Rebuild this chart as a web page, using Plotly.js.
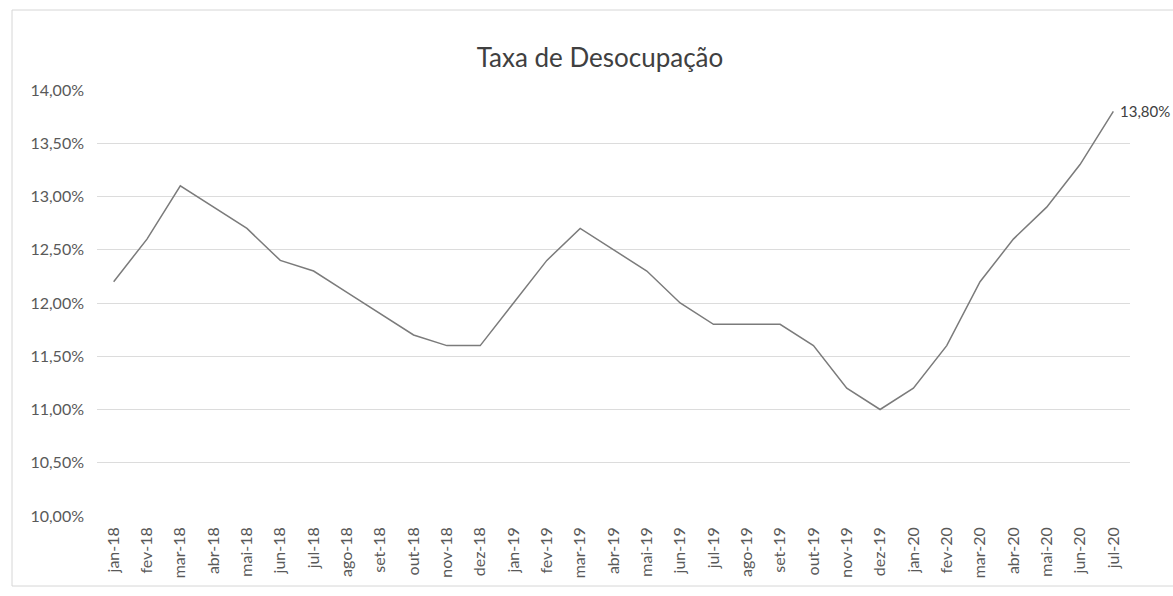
<!DOCTYPE html>
<html>
<head>
<meta charset="utf-8">
<script src="https://cdn.plot.ly/plotly-3.0.1.min.js"></script>
<style>
  html, body { margin: 0; padding: 0; background: #ffffff; }
  #chart { width: 1173px; height: 596px; }
</style>
</head>
<body>
<div id="chart"></div>
<script>
// Categories (month-year, Portuguese abbreviations)
const months = [
  "jan-18","fev-18","mar-18","abr-18","mai-18","jun-18","jul-18","ago-18","set-18","out-18","nov-18","dez-18",
  "jan-19","fev-19","mar-19","abr-19","mai-19","jun-19","jul-19","ago-19","set-19","out-19","nov-19","dez-19",
  "jan-20","fev-20","mar-20","abr-20","mai-20","jun-20","jul-20"
];

// Unemployment rate (%)
const taxaDesocupacao = [
  12.2, 12.6, 13.1, 12.9, 12.7, 12.4, 12.3, 12.1, 11.9, 11.7, 11.6, 11.6,
  12.0, 12.4, 12.7, 12.5, 12.3, 12.0, 11.8, 11.8, 11.8, 11.6, 11.2, 11.0,
  11.2, 11.6, 12.2, 12.6, 12.9, 13.3, 13.8
];

// Y-axis ticks and their labels
const yTicks = [10, 10.5, 11, 11.5, 12, 12.5, 13, 13.5, 14];
const yTickLabels = ["10,00%","10,50%","11,00%","11,50%","12,00%","12,50%","13,00%","13,50%","14,00%"];

const chartTitle = "Taxa de Desocupação";

const fontFamily = "Lato, 'Open Sans', 'Noto Sans', sans-serif";

const lastIdx = months.length - 1;
const lastLabel = taxaDesocupacao[lastIdx].toFixed(2).replace(".", ",") + "%";

const trace = {
  type: "scatter",
  mode: "lines",
  x: months,
  y: taxaDesocupacao,
  line: { color: "#7b7b7b", width: 1.5 },
  hoverinfo: "x+y",
  showlegend: false
};

// Plot area pixel geometry (for the chart-area border)
const W = 1173, H = 596;
const mL = 97, mR = 43, mT = 90, mB = 80;
const pw = W - mL - mR, ph = H - mT - mB;
const px = v => (v - mL) / pw;
const py = v => (H - mB - v) / ph;

const layout = {
  width: W,
  height: H,
  margin: { l: mL, r: mR, t: mT, b: mB, pad: 0 },
  paper_bgcolor: "#ffffff",
  plot_bgcolor: "#ffffff",
  font: { family: fontFamily, color: "#595959" },
  title: {
    text: chartTitle,
    font: { family: fontFamily, size: 26, color: "#404040" },
    x: 600 / W,
    xref: "container",
    xanchor: "center",
    y: 1 - 58 / H,
    yref: "container",
    yanchor: "middle"
  },
  xaxis: {
    type: "category",
    categoryorder: "array",
    categoryarray: months,
    range: [-0.5, months.length - 0.5],
    tickangle: -90,
    tickfont: { family: fontFamily, size: 16, color: "#595959" },
    showgrid: false,
    zeroline: false,
    showline: false,
    ticks: "",
    ticklabelstandoff: 7,
    fixedrange: true
  },
  yaxis: {
    range: [10, 14],
    tickmode: "array",
    tickvals: yTicks,
    ticktext: yTickLabels,
    tickfont: { family: fontFamily, size: 16, color: "#595959" },
    showgrid: true,
    gridcolor: "#dcdcdc",
    gridwidth: 1,
    zeroline: false,
    showline: false,
    ticks: "",
    ticklabelstandoff: 12,
    fixedrange: true
  },
  annotations: [
    {
      x: months[lastIdx],
      y: taxaDesocupacao[lastIdx],
      xref: "x",
      yref: "y",
      text: lastLabel,
      showarrow: false,
      xanchor: "left",
      yanchor: "middle",
      xshift: 5,
      font: { family: fontFamily, size: 15, color: "#404040" }
    }
  ],
  shapes: [
    {
      type: "rect",
      xref: "paper",
      yref: "paper",
      x0: px(12), x1: px(1190),
      y0: py(586), y1: py(10),
      line: { color: "#d6d6d6", width: 1 },
      fillcolor: "rgba(0,0,0,0)",
      layer: "below"
    }
  ]
};

Plotly.newPlot("chart", [trace], layout, { displayModeBar: false, staticPlot: true });
</script>
</body>
</html>
